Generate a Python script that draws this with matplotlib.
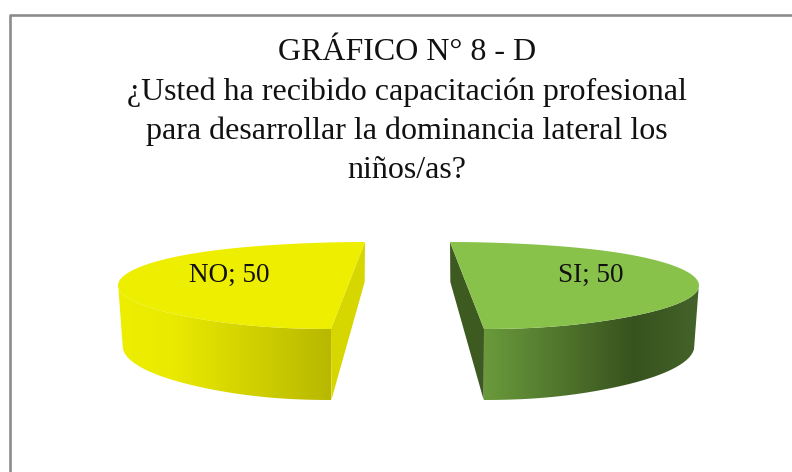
import numpy as np
import matplotlib
matplotlib.use('Agg')
import matplotlib.pyplot as plt
from matplotlib.patches import Polygon
from matplotlib.colors import LinearSegmentedColormap

title_lines = ['GRÁFICO N° 8 - D',
               '¿Usted ha recibido capacitación profesional',
               'para desarrollar la dominancia lateral los',
               'niños/as?']
labels = ['NO', 'SI']
values = [50, 50]
top_colors = ['#EEEE00', '#89C24B']
edge_colors = ['#D6D600', '#3D5A20']
front_colors = [['#EEEE00', '#EAEA00', '#B8B800'], ['#6A9A3C', '#37521E', '#44632A']]

plt.rcParams['font.family'] = ['Liberation Serif', 'DejaVu Serif']
fig = plt.figure(figsize=(7.92, 4.72), dpi=100)
ax = fig.add_axes([0, 0, 1, 1])
ax.set_xlim(0, 792)
ax.set_ylim(472, 0)
ax.axis('off')

# frame, open on the right and bottom like the cropped original
ax.plot([10, 10, 792], [472, 15, 15], color='#8C8C8C', lw=1.9)

a_list = [230, 232]
b = 43.5
cy = 285.5
cx_list = [348, 467]
mid_angle = [180, 0]
total = sum(values)


def depth(y):
    return np.interp(y, [242, 288, 329], [40, 61, 71])


for i in range(2):
    span = 360 * values[i] / total
    t = np.radians(np.linspace(mid_angle[i] - span / 2, mid_angle[i] + span / 2, 200))
    x = cx_list[i] + a_list[i] * np.cos(t)
    y = cy - b * np.sin(t)
    # perspective lean of the flat cut, mirrored for each slice
    lean = 1 if i == 0 else -1
    x = x + lean * 17 * np.sin(t) * (np.abs(np.sin(t)) ** 8)
    xb = cx_list[i] + (x - cx_list[i]) * 0.98
    yb = y + depth(y)

    # flat cut face
    cut = [[x[0], y[0]], [x[-1], y[-1]], [xb[-1], yb[-1]], [xb[0], yb[0]]]
    ax.add_patch(Polygon(cut, closed=True, fc=edge_colors[i], ec='none', zorder=2))

    # curved front face with a horizontal gradient
    front = y >= cy + 2
    px = np.concatenate([x[front], xb[front][::-1]])
    py = np.concatenate([y[front], yb[front][::-1]])
    poly = Polygon(np.column_stack([px, py]), closed=True, fc='none', ec='none', zorder=3)
    ax.add_patch(poly)
    if i == 0:
        stops = [(0, front_colors[i][0]), (0.25, front_colors[i][1]), (1, front_colors[i][2])]
    else:
        stops = [(0, front_colors[i][0]), (0.7, front_colors[i][1]), (1, front_colors[i][2])]
    cmap = LinearSegmentedColormap.from_list('f%d' % i, stops)
    grad = np.linspace(0, 1, 256).reshape(1, -1)
    x0, x1 = px.min(), px.max()
    im = ax.imshow(grad, cmap=cmap, extent=[x0, x1, py.max(), py.min()], aspect='auto', zorder=3)
    im.set_clip_path(poly)

    # top surface
    ax.add_patch(Polygon(np.column_stack([x, y]), closed=True, fc=top_colors[i], ec='none', zorder=4))

ax.set_xlim(0, 792)
ax.set_ylim(472, 0)

title_y = [52, 92, 131, 170]
for line, y in zip(title_lines, title_y):
    ax.text(407, y, line, ha='center', va='center', fontsize=23, color='#111111', zorder=5)

label_pos = [(229, 275), (591, 275)]
for i in range(2):
    ax.text(label_pos[i][0], label_pos[i][1], '%s; %d' % (labels[i], values[i]),
            ha='center', va='center', fontsize=19.5, color='#111111', zorder=5)

fig.savefig('out.png', dpi=100)
